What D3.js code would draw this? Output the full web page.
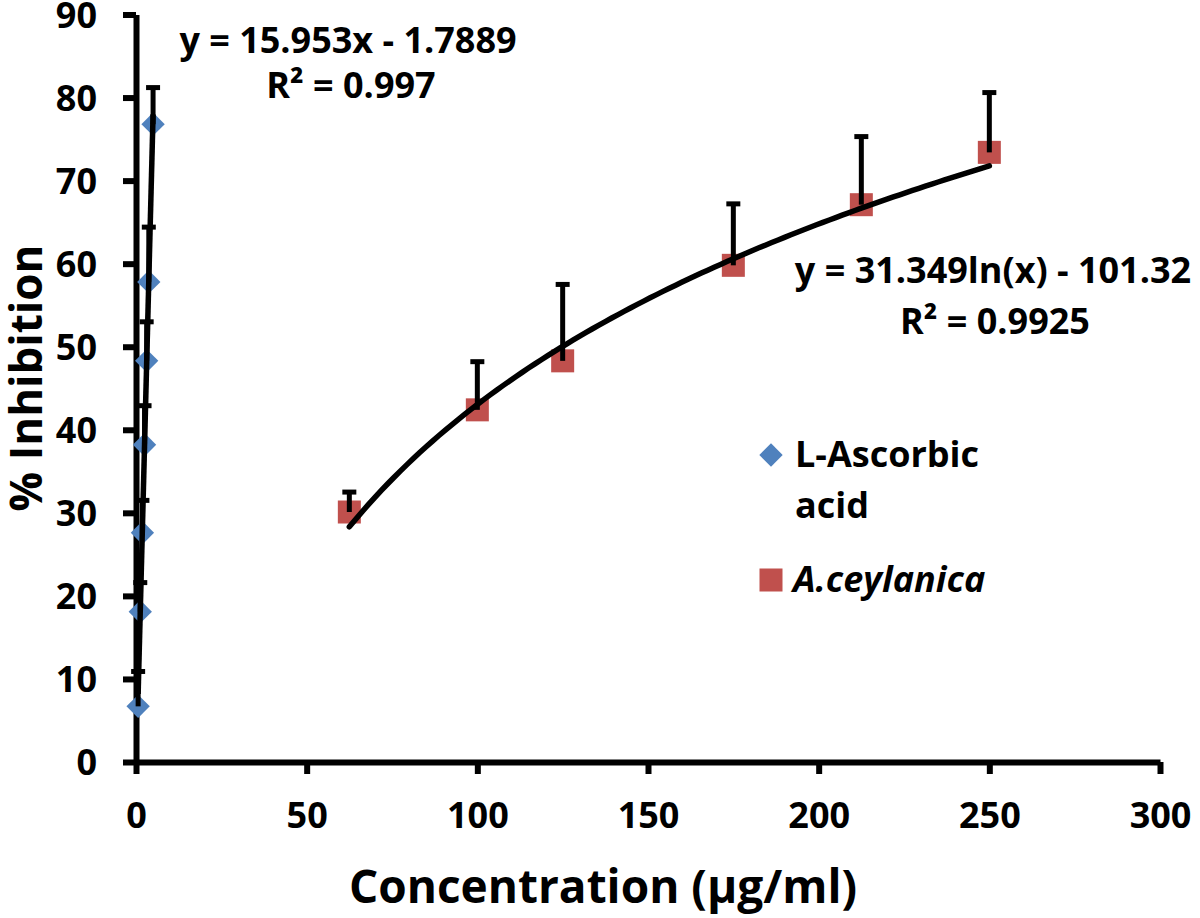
<!DOCTYPE html>
<html><head><meta charset="utf-8">
<script src="https://cdn.jsdelivr.net/npm/d3@7"></script>
<style>
body{margin:0;background:#fff}
text{font-family:"Open Sans",sans-serif;font-weight:700;fill:#000}
</style>
</head><body>
<svg id="c" width="1200" height="918"></svg>
<script>
// ---- data ----
const ascorbicConc = [0.625, 1.25, 1.875, 2.5, 3.125, 3.75, 5];
const ascorbicInh  = [6.7, 18.1, 27.6, 38.2, 48.3, 57.8, 76.8];
const ascorbicErr  = [4.2, 3.5, 3.9, 4.7, 4.7, 6.6, 4.4];
const extractConc  = [62.5, 100, 125, 175, 212.5, 250];
const extractInh   = [30.1, 42.4, 48.3, 59.8, 67.1, 73.4];
const extractErr   = [2.4, 5.8, 9.2, 7.4, 8.2, 7.2];
const xTicks = [0, 50, 100, 150, 200, 250, 300];
const yTicks = [0, 10, 20, 30, 40, 50, 60, 70, 80, 90];
const seriesNames = ["L-Ascorbic", "A.ceylanica"];
const linSlope = 15.953, linIntercept = -1.7889;
const logA = 31.349, logB = -101.32;
const eq1 = ["y = 15.953x - 1.7889", "R² = 0.997"];
const eq2 = ["y = 31.349ln(x) - 101.32", "R² = 0.9925"];
const xTitle = "Concentration (µg/ml)";
const yTitle = "% Inhibition";

const BLUE = "#4F81BD", RED = "#C0504D";

const svg = d3.select("#c");
svg.append("rect").attr("width",1200).attr("height",918).attr("fill","#fff");

const x = d3.scaleLinear().domain([0,300]).range([136,1160]);
const y = d3.scaleLinear().domain([0,90]).range([762,14.5]);

// axes
const yAxis = d3.axisLeft(y).tickValues(yTicks).tickSize(13).tickSizeOuter(0).tickPadding(26);
const gy = svg.append("g").attr("transform",`translate(${x(0)},0)`).call(yAxis);
gy.select(".domain").attr("stroke","#000").attr("stroke-width",6);
gy.selectAll(".tick line").attr("stroke","#000").attr("stroke-width",6);
gy.selectAll(".tick text").attr("font-size",36).attr("font-family","Open Sans").attr("font-weight",700).attr("fill","#000").attr("dy","0.36em");

const xAxis = d3.axisBottom(x).tickValues(xTicks).tickSize(12).tickSizeOuter(0).tickPadding(28);
const gx = svg.append("g").attr("transform",`translate(0,${y(0)})`).call(xAxis);
gx.select(".domain").attr("stroke","#000").attr("stroke-width",6);
gx.selectAll(".tick line").attr("stroke","#000").attr("stroke-width",6);
gx.selectAll(".tick text").attr("font-size",36).attr("font-family","Open Sans").attr("font-weight",700).attr("fill","#000").attr("dy","0.71em");

// markers
const asc = ascorbicConc.map((c,i)=>({c, v:ascorbicInh[i], e:ascorbicErr[i]}));
const ext = extractConc.map((c,i)=>({c, v:extractInh[i], e:extractErr[i]}));
const diamond = d3.symbol().type(d3.symbolSquare).size(16.5*16.5);

svg.append("g").selectAll("path").data(asc).join("path")
  .attr("d", diamond)
  .attr("transform", d=>`translate(${x(d.c)},${y(d.v)}) rotate(45)`)
  .attr("fill", BLUE);

svg.append("g").selectAll("rect").data(ext).join("rect")
  .attr("x", d=>x(d.c)-11.5).attr("y", d=>y(d.v)-11.5)
  .attr("width",23).attr("height",23).attr("fill",RED);

// error bars (plus direction)
function errBars(data){
  const g = svg.append("g").attr("stroke","#000");
  g.selectAll("line.v").data(data).join("line").attr("class","v")
    .attr("x1",d=>x(d.c)).attr("x2",d=>x(d.c))
    .attr("y1",d=>y(d.v)).attr("y2",d=>y(d.v+d.e)).attr("stroke-width",5);
  g.selectAll("line.c").data(data).join("line").attr("class","c")
    .attr("x1",d=>x(d.c)-7).attr("x2",d=>x(d.c)+7)
    .attr("y1",d=>y(d.v+d.e)).attr("y2",d=>y(d.v+d.e)).attr("stroke-width",5);
}
errBars(asc);
errBars(ext);

// trendlines
const linX = d3.extent(ascorbicConc);
svg.append("path")
  .attr("d", d3.line()(linX.map(c=>[x(c), y(linSlope*c+linIntercept)])))
  .attr("stroke","#000").attr("stroke-width",5.5).attr("fill","none");

const [lo,hi] = d3.extent(extractConc);
const logPts = d3.range(0,101).map(i=>lo+(hi-lo)*i/100);
svg.append("path")
  .attr("d", d3.line()(logPts.map(c=>[x(c), y(logA*Math.log(c)+logB)])))
  .attr("stroke","#000").attr("stroke-width",5.5).attr("fill","none").attr("stroke-linecap","round");

// equation labels
function label(txt, cx, by, size, anchor, italic){
  return svg.append("text").attr("x",cx).attr("y",by).attr("font-size",size)
    .attr("text-anchor",anchor||"middle").attr("font-style",italic?"italic":null).text(txt);
}
label(eq1[0], 348, 53, 36);
label(eq1[1], 351, 98, 36);
label(eq2[0], 993, 283, 36);
label(eq2[1], 995, 334, 36);

// legend
svg.append("path").attr("d", diamond)
  .attr("transform",`translate(771,455) rotate(45)`).attr("fill",BLUE);
label(seriesNames[0], 795, 467, 36, "start");
label("acid", 795, 518, 36, "start");
svg.append("rect").attr("x",771-11.5).attr("y",580-11.5).attr("width",23).attr("height",23).attr("fill",RED);
label(seriesNames[1], 793, 592, 36, "start", true);

// axis titles
label(xTitle, 603, 903, 46);
svg.append("text").attr("transform","translate(42,378) rotate(-90)")
  .attr("text-anchor","middle").attr("font-size",44).text(yTitle);
</script>
</body></html>
